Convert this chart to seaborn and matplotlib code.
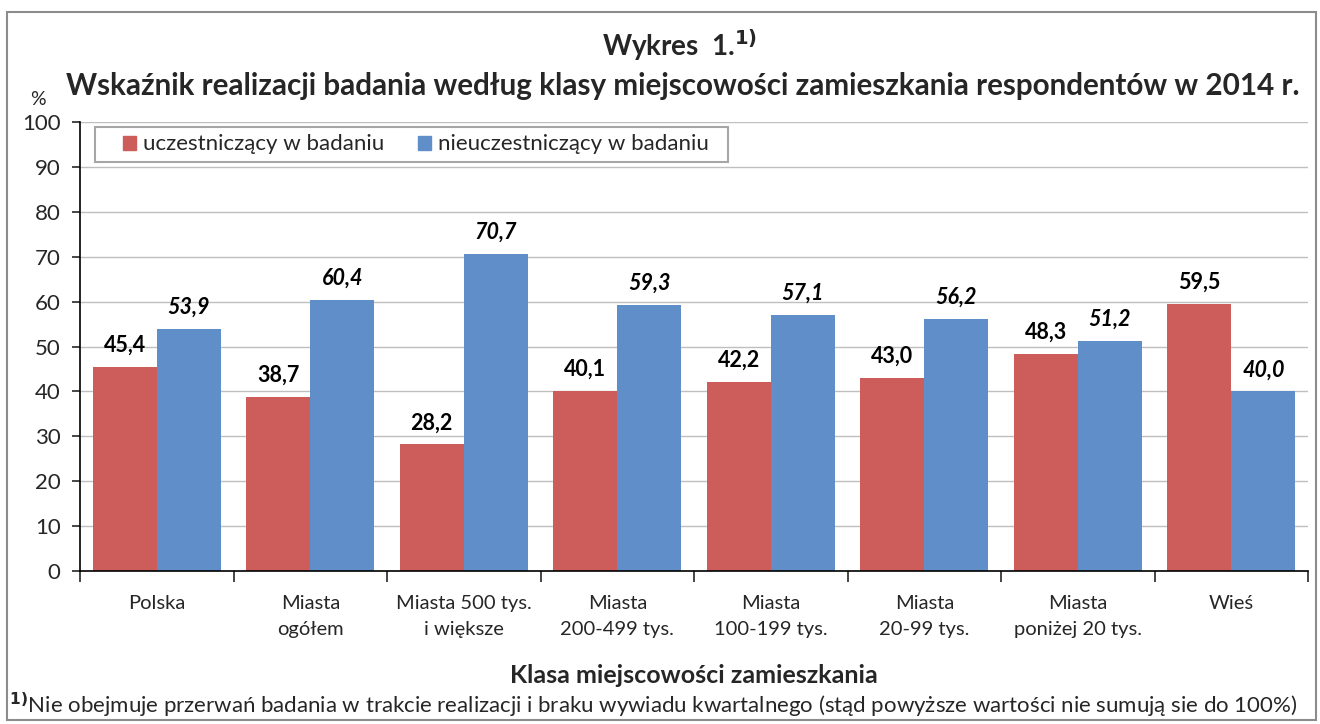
import pandas as pd
import matplotlib.pyplot as plt
import matplotlib.patches as mpatches
import seaborn as sns

# data
categories = ['Polska', 'Miasta\nogółem', 'Miasta 500 tys.\ni większe', 'Miasta\n200-499 tys.',
              'Miasta\n100-199 tys.', 'Miasta\n20-99 tys.', 'Miasta\nponiżej 20 tys.', 'Wieś']
participating = [45.4, 38.7, 28.2, 40.1, 42.2, 43.0, 48.3, 59.5]
not_participating = [53.9, 60.4, 70.7, 59.3, 57.1, 56.2, 51.2, 40.0]
series = ['uczestniczący w badaniu', 'nieuczestniczący w badaniu']
colors = ['#CC5D5A', '#5F8EC8']

df = pd.DataFrame({
    'klasa': categories * 2,
    'wartosc': participating + not_participating,
    'grupa': [series[0]] * len(categories) + [series[1]] * len(categories),
})

sns.set_style('white')
plt.rcParams['font.family'] = ['Lato', 'DejaVu Sans']

fig = plt.figure(figsize=(13.2, 7.24), dpi=100)
ax = fig.add_axes([0.0606, 0.2113, 0.9304, 0.6202])

sns.barplot(data=df, x='klasa', y='wartosc', hue='grupa', palette=colors,
            width=0.835, saturation=1, ax=ax, legend=False, edgecolor='none')

# value labels: first series upright, second italic
for cont, vals, style in zip(ax.containers, [participating, not_participating], ['normal', 'italic']):
    ax.bar_label(cont, labels=[f'{v:.1f}'.replace('.', ',') for v in vals], padding=8,
                 fontsize=15.5, fontweight='bold', fontstyle=style, color='black')

ax.set_ylim(0, 100)
ax.set_xlim(-0.5, len(categories) - 0.5)
ax.set_yticks(range(0, 101, 10))
ax.yaxis.grid(True, color='#BFBFBF', linewidth=1)
ax.set_axisbelow(True)
for s in ['top', 'right']:
    ax.spines[s].set_visible(False)
for s in ['left', 'bottom']:
    ax.spines[s].set_color('black')
    ax.spines[s].set_linewidth(1.2)

ax.tick_params(axis='y', left=True, length=6, width=1.2, labelsize=16, pad=8)
ax.tick_params(axis='x', which='major', bottom=False, labelsize=14.5, pad=14)
ax.set_xticks([i - 0.5 for i in range(len(categories) + 1)], minor=True)
ax.tick_params(axis='x', which='minor', bottom=True, length=8, width=1.2)
for lbl in ax.get_xticklabels():
    lbl.set_linespacing(1.6)

ax.set_ylabel('')
ax.set_xlabel('Klasa miejscowości zamieszkania', fontsize=18, fontweight='bold', labelpad=19)

# legend without its own frame, box drawn separately
handles = [mpatches.Patch(color=c, label=s) for c, s in zip(colors, series)]
ax.legend(handles=handles, ncol=2, loc='center left', bbox_to_anchor=(0.035, 0.95),
          fontsize=16, frameon=False, handlelength=0.6, handleheight=0.6,
          handletextpad=0.3, columnspacing=1.5, borderpad=0, borderaxespad=0)
ax.add_patch(mpatches.Rectangle((0.0122, 0.911), 0.5155, 0.0779, transform=ax.transAxes,
                                fill=False, edgecolor='#A6A6A6', linewidth=1.5, zorder=5))

fig.text(0.515, 0.937, 'Wykres  1.$^{\\mathbf{1)}}$', ha='center', va='center', fontsize=20, fontweight='bold')
fig.text(0.517, 0.881, 'Wskaźnik realizacji badania według klasy miejscowości zamieszkania respondentów w 2014 r.',
         ha='center', va='center', fontsize=21.3, fontweight='bold')
fig.text(0.029, 0.862, '%', ha='center', va='center', fontsize=14)
fig.text(0.007, 0.025, '$^{\\mathbf{1)}}$Nie obejmuje przerwań badania w trakcie realizacji i braku wywiadu kwartalnego '
         '(stąd powyższe wartości nie sumują sie do 100%)', ha='left', va='center', fontsize=16)

fig.patches.append(mpatches.Rectangle((0.005, 0.005), 0.992, 0.978, transform=fig.transFigure,
                                      fill=False, edgecolor='#8C8C8C', linewidth=1.5))

fig.savefig('out.png', dpi=100)
